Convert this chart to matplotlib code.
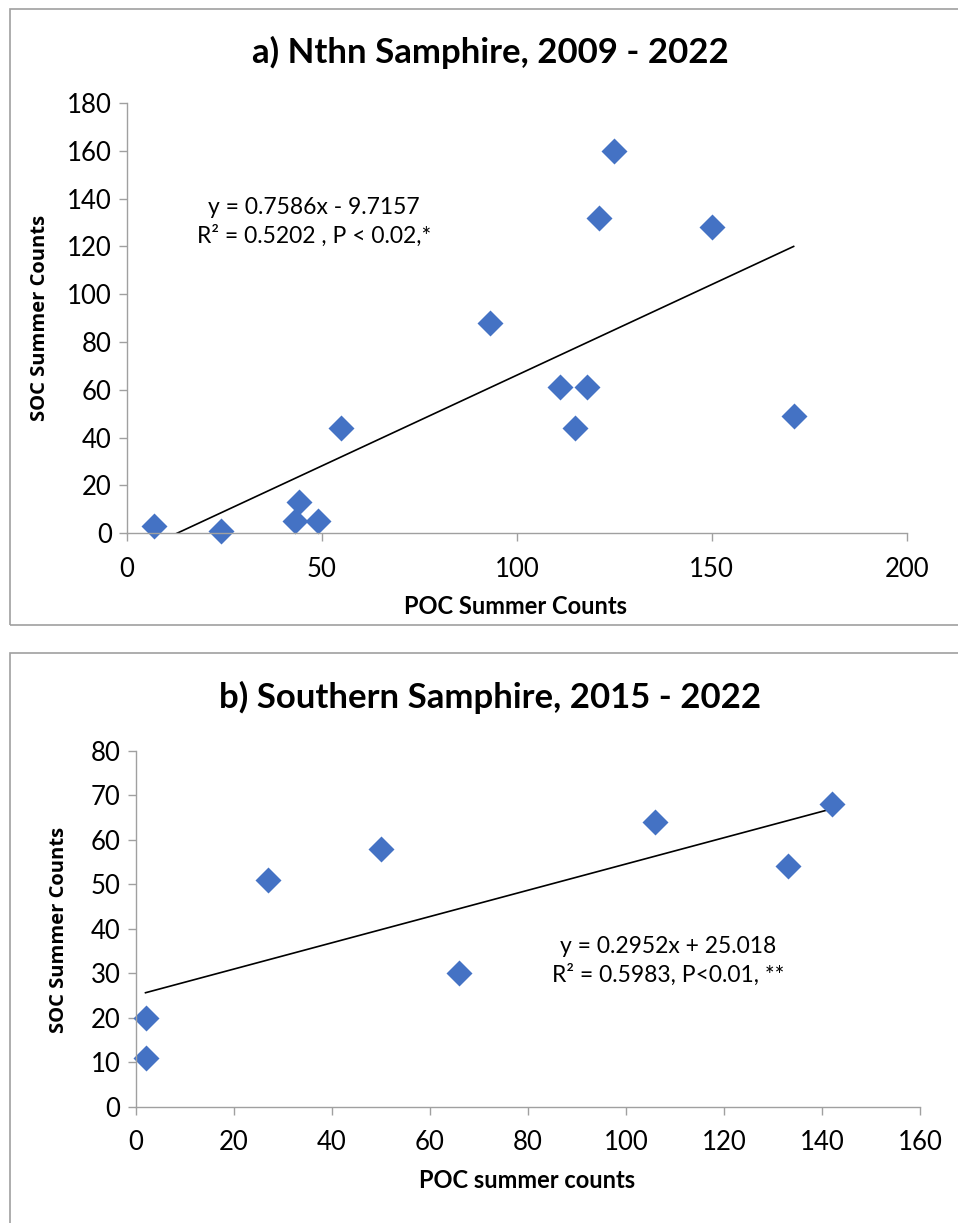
import matplotlib
matplotlib.use("Agg")
import matplotlib.pyplot as plt
from matplotlib.patches import Rectangle
import numpy as np

# panel a) Nthn Samphire, 2009 - 2022
poc_a = [7, 24, 43, 44, 49, 55, 93, 111, 115, 118, 121, 125, 150, 171]
soc_a = [3, 1, 5, 13, 5, 44, 88, 61, 44, 61, 132, 160, 128, 49]
slope_a, icpt_a = 0.7586, -9.7157
xticks_a = [0, 50, 100, 150, 200]
yticks_a = [0, 20, 40, 60, 80, 100, 120, 140, 160, 180]

# panel b) Southern Samphire, 2015 - 2022
poc_b = [2, 2, 27, 50, 66, 106, 133, 142]
soc_b = [20, 11, 51, 58, 30, 64, 54, 68]
slope_b, icpt_b = 0.2952, 25.018
xticks_b = [0, 20, 40, 60, 80, 100, 120, 140, 160]
yticks_b = [0, 10, 20, 30, 40, 50, 60, 70, 80]

W, H = 958, 1223
blue = "#4472C4"
grey = "#a0a0a0"
tick_font = "Lato"


def fx(px):
    return px / W


def fy(py):
    return 1 - py / H


fig = plt.figure(figsize=(W / 100, H / 100), dpi=100)

# panel frames
fig.patches.append(Rectangle((fx(9.5), fy(624.5)), fx(960), fy(9) - fy(624.5),
                             transform=fig.transFigure, fill=False,
                             edgecolor=grey, lw=1.2))
fig.patches.append(Rectangle((fx(9.5), fy(1240)), fx(960), fy(653.5) - fy(1240),
                             transform=fig.transFigure, fill=False,
                             edgecolor=grey, lw=1.2))


def style_axes(ax, xt, yt):
    for s in ["top", "right"]:
        ax.spines[s].set_visible(False)
    for s in ["left", "bottom"]:
        ax.spines[s].set_color(grey)
        ax.spines[s].set_linewidth(1.0)
    ax.set_xticks(xt)
    ax.set_yticks(yt)
    ax.set_xlim(xt[0], xt[-1])
    ax.set_ylim(yt[0], yt[-1])
    ax.tick_params(direction="out", length=6, width=1.0, color=grey,
                   labelsize=18.5, pad=5)
    ax.tick_params(axis="x", pad=11)
    for lab in ax.get_xticklabels() + ax.get_yticklabels():
        lab.set_family(tick_font)


# ---- panel a
ax1 = fig.add_axes([fx(127), fy(533.3), fx(906.7) - fx(127), fy(103) - fy(533.3)])
style_axes(ax1, xticks_a, yticks_a)
xa = np.array([min(poc_a), max(poc_a)])
ax1.plot(xa, slope_a * xa + icpt_a, color="black", lw=1.2)
ax1.plot(poc_a, soc_a, "D", color=blue, ms=13, mec="none", clip_on=False)
fig.text(fx(490), fy(52), "a) Nthn Samphire, 2009 - 2022", ha="center",
         va="center", fontsize=25, fontweight="bold", family="Lato")
fig.text(fx(40), fy(318), "SOC Summer Counts", rotation=90, ha="center",
         va="center", fontsize=14.5, fontweight="bold", family="Open Sans")
fig.text(fx(516), fy(606), "POC Summer Counts", ha="center", va="center",
         fontsize=17, fontweight="bold", family="Lato")
fig.text(fx(314), fy(222), "y = 0.7586x - 9.7157\nR² = 0.5202 , P < 0.02,*",
         ha="center", va="center", fontsize=16.5, family="Lato", linespacing=1.4)

# ---- panel b
ax2 = fig.add_axes([fx(135.7), fy(1106.7), fx(920) - fx(135.7), fy(750.7) - fy(1106.7)])
style_axes(ax2, xticks_b, yticks_b)
xb = np.array([min(poc_b), max(poc_b)])
ax2.plot(xb, slope_b * xb + icpt_b, color="black", lw=1.2)
ax2.plot(poc_b, soc_b, "D", color=blue, ms=13, mec="none", clip_on=False)
fig.text(fx(490), fy(697), "b) Southern Samphire, 2015 - 2022", ha="center",
         va="center", fontsize=25, fontweight="bold", family="Lato")
fig.text(fx(59), fy(930), "SOC Summer Counts", rotation=90, ha="center",
         va="center", fontsize=14.5, fontweight="bold", family="Open Sans")
fig.text(fx(527), fy(1181), "POC summer counts", ha="center", va="center",
         fontsize=17, fontweight="bold", family="Lato")
fig.text(fx(668), fy(961), "y = 0.2952x + 25.018\nR² = 0.5983, P<0.01, **",
         ha="center", va="center", fontsize=16.5, family="Lato", linespacing=1.4)

fig.savefig("out.png", dpi=100, facecolor="white")
